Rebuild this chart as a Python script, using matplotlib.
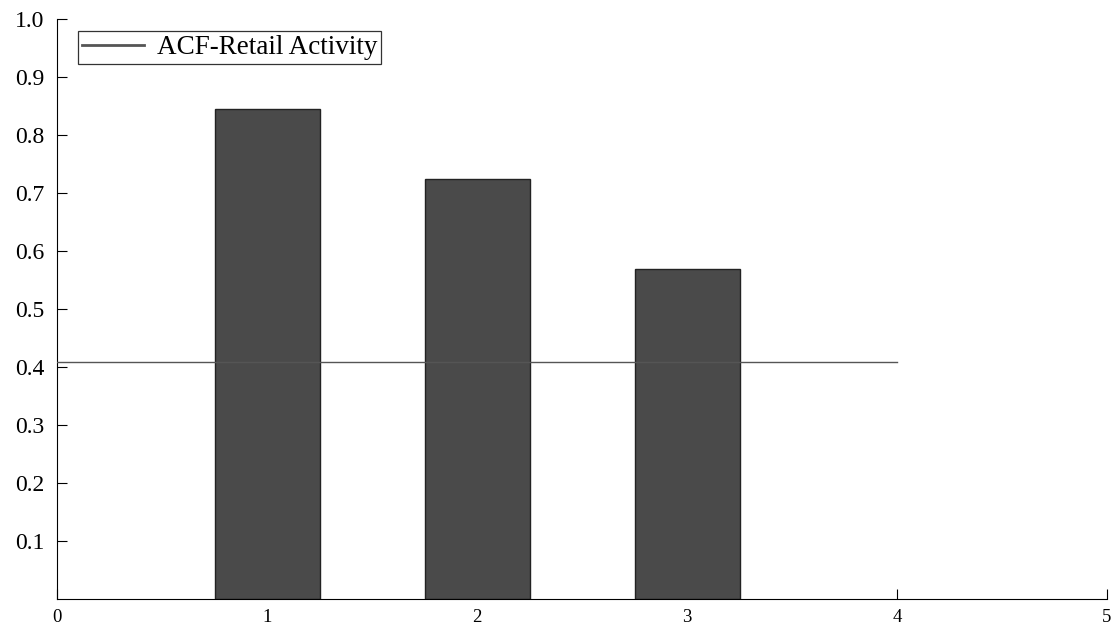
import matplotlib.pyplot as plt

plt.rcParams["font.family"] = ["Liberation Serif", "DejaVu Serif"]

# autocorrelation at lags 1-3 and the significance band
lags = [1, 2, 3]
acf = [0.845, 0.724, 0.569]
band_x = [0, 4]
band_y = [0.409, 0.409]

fig = plt.figure(figsize=(11.14, 6.25), dpi=100)
ax = fig.add_axes([0.0512, 0.0416, 0.9425, 0.928])

ax.bar(lags, acf, width=0.5, color="#4a4a4a", edgecolor="#222222",
       linewidth=1.0, zorder=2)
ax.plot(band_x, band_y, color="#555555", linewidth=1.0, zorder=3,
        label="ACF-Retail Activity")

ax.set_xlim(0, 5)
ax.set_ylim(0, 1.0)
ax.set_xticks([0, 1, 2, 3, 4, 5])
ax.set_yticks([0.1, 0.2, 0.3, 0.4, 0.5, 0.6, 0.7, 0.8, 0.9, 1.0])
ax.set_yticklabels([f"{v:.1f}" for v in ax.get_yticks()])
ax.tick_params(axis="x", direction="in", length=7, labelsize=13.5, pad=7)
ax.tick_params(axis="y", direction="in", length=7, labelsize=17, pad=9)
for side in ("top", "right"):
    ax.spines[side].set_visible(False)

leg = ax.legend(loc="upper left", bbox_to_anchor=(0.02, 0.979), fontsize=19.5,
                frameon=True, fancybox=False, edgecolor="black",
                borderaxespad=0, handlelength=2.3, borderpad=0.15,
                handletextpad=0.45)
leg.get_frame().set_linewidth(0.9)
leg.get_lines()[0].set_linewidth(2.0)

fig.savefig("out.png", dpi=100)
